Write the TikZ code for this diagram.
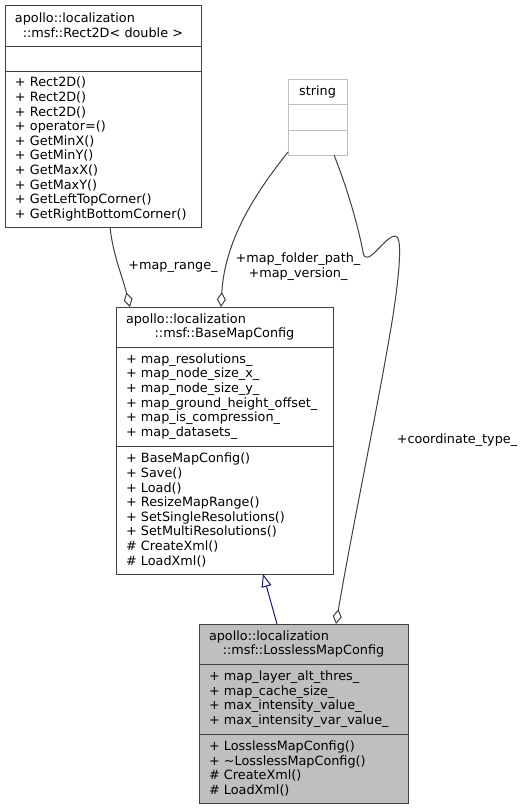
\documentclass[tikz,border=0pt]{standalone}
\usepackage{fontspec}
\setmainfont{DejaVu Sans}
\usetikzlibrary{positioning,arrows.meta}
\definecolor{boxline}{HTML}{404040}
\definecolor{derivedfill}{HTML}{BFBFBF}
\definecolor{extline}{HTML}{BFBFBF}
\definecolor{inheritblue}{HTML}{191970}
\newcommand{\umlfont}{\fontsize{12.8}{14.6}\selectfont}
\tikzset{
	umlbox/.style={draw=boxline, line width=1pt, outer sep=0pt, inner xsep=10pt, inner ysep=1pt, font=\umlfont},
	umltitle/.style={umlbox, align=center},
	umlpart/.style={umlbox, align=left},
	member/.style={draw=boxline, line width=1pt, -{Diamond[open,length=15pt,width=9pt]}},
	inherit/.style={draw=inheritblue, line width=1pt, -{Triangle[open,length=13pt,width=10pt]}},
	rolelabel/.style={font=\umlfont, inner sep=0pt}
}

\begin{document}
\begin{tikzpicture}[x=1pt,y=-1pt]
	\useasboundingbox (0,0) rectangle (525,809);

	\node[umltitle, anchor=north, text width=176pt, minimum height=41pt] (r2title) at (103,5) {\makebox[\linewidth][l]{apollo::localization}\\::msf::Rect2D< double >};
	\node[umlpart, below=0pt of r2title, text width=176pt, minimum height=25pt] (r2attr) {};
	\node[umlpart, below=0pt of r2attr, text width=176pt, minimum height=156pt] (r2meth) {+~Rect2D()\\+~Rect2D()\\+~Rect2D()\\+~operator=()\\+~GetMinX()\\+~GetMinY()\\+~GetMaxX()\\+~GetMaxY()\\+~GetLeftTopCorner()\\+~GetRightBottomCorner()};

	\node[umltitle, draw=extline, anchor=north, text width=39pt, minimum height=25pt] (strtitle) at (317.5,79) {string};
	\node[umlpart, draw=extline, below=0pt of strtitle, text width=39pt, minimum height=26pt] (strattr) {};
	\node[umlpart, draw=extline, below=0pt of strattr, text width=39pt, minimum height=25pt] (strmeth) {};

	\node[umltitle, anchor=north, text width=197pt, minimum height=40pt] (bmtitle) at (224.5,307) {\makebox[\linewidth][l]{apollo::localization}\\::msf::BaseMapConfig};
	\node[umlpart, below=0pt of bmtitle, text width=197pt, minimum height=99pt] (bmattr) {+~map\_resolutions\_\\+~map\_node\_size\_x\_\\+~map\_node\_size\_y\_\\+~map\_ground\_height\_offset\_\\+~map\_is\_compression\_\\+~map\_datasets\_};
	\node[umlpart, below=0pt of bmattr, text width=197pt, minimum height=128pt] (bmmeth) {+~BaseMapConfig()\\+~Save()\\+~Load()\\+~ResizeMapRange()\\+~SetSingleResolutions()\\+~SetMultiResolutions()\\\#~CreateXml()\\\#~LoadXml()};

	\node[umltitle, fill=derivedfill, anchor=north, text width=189pt, minimum height=40pt] (lmtitle) at (303.5,624) {\makebox[\linewidth][l]{apollo::localization}\\::msf::LosslessMapConfig};
	\node[umlpart, fill=derivedfill, below=0pt of lmtitle, text width=189pt, minimum height=70pt] (lmattr) {+~map\_layer\_alt\_thres\_\\+~map\_cache\_size\_\\+~max\_intensity\_value\_\\+~max\_intensity\_var\_value\_};
	\node[umlpart, fill=derivedfill, below=0pt of lmattr, text width=189pt, minimum height=69pt] (lmmeth) {+~LosslessMapConfig()\\+~\textasciitilde LosslessMapConfig()\\\#~CreateXml()\\\#~LoadXml()};

	\draw[inherit] ([xshift=78pt]lmtitle.north west) -- ([xshift=147pt]bmmeth.south west);
	\draw[member] ([xshift=105pt]r2meth.south west) .. controls +(3,28) and +(-8,-32) .. ([xshift=14pt]bmtitle.north west);
	\draw[member] ([yshift=3pt]strmeth.south west) .. controls +(-26,33) and +(4,-72) .. ([xshift=105pt]bmtitle.north west);
	\draw[member] ([xshift=46pt]strmeth.south west) .. controls (350,195) and (360,235) .. (363,252) .. controls (366,272) and (388,230) .. (397,237) .. controls (403,242) and (398,290) .. (388,345) .. controls (375,420) and (350,540) .. ([xshift=137pt]lmtitle.north west);

	\node[rolelabel] (rangelbl) at (173,267) {+map\_range\_};
	\node[rolelabel, align=center] (pathlbl) at (298,266.5) {+map\_folder\_path\_\\+map\_version\_};
	\node[rolelabel] (coordlbl) at (457,440) {+coordinate\_type\_};
\end{tikzpicture}
\end{document}
